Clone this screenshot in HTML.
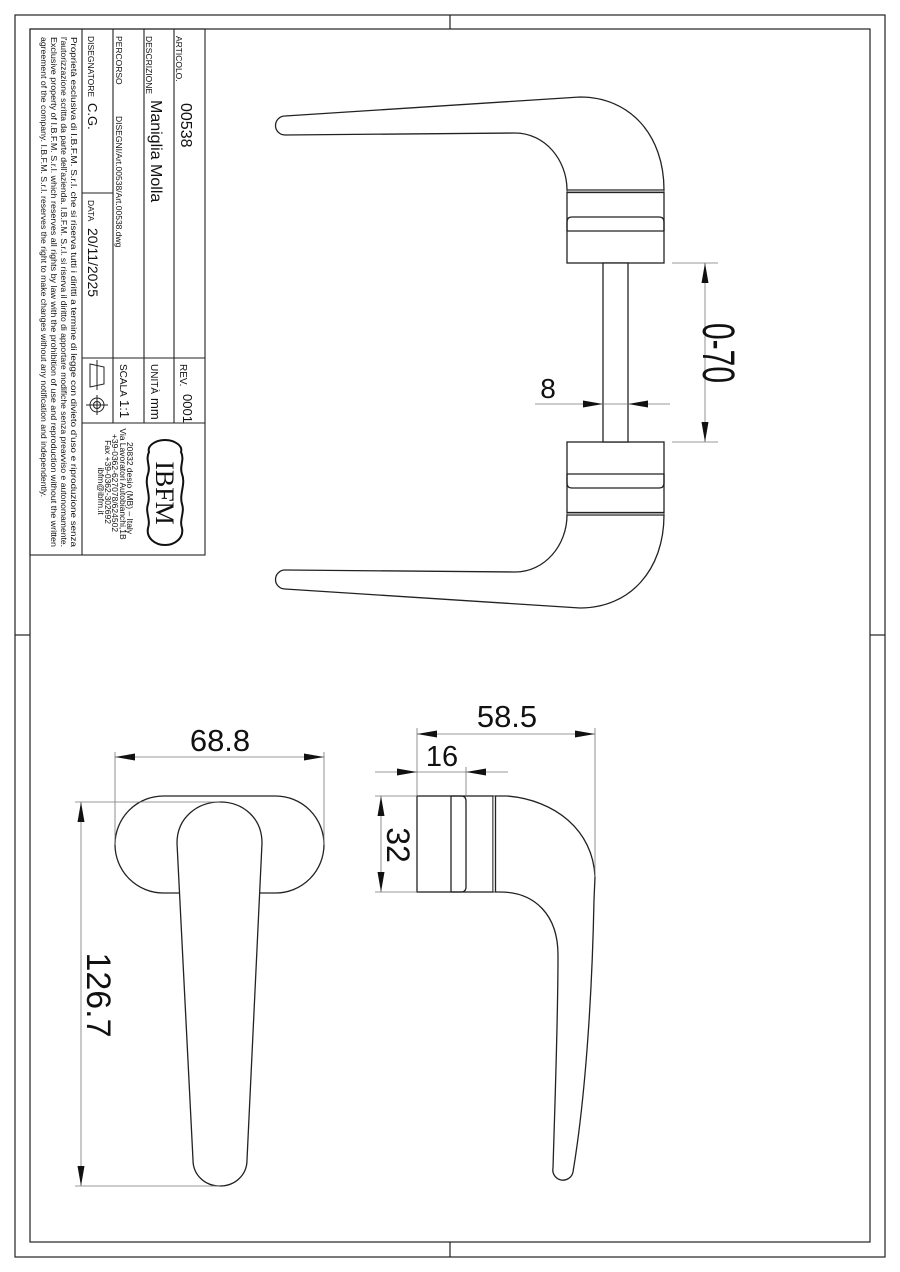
<!DOCTYPE html>
<html><head><meta charset="utf-8"><style>
html,body{margin:0;padding:0;background:#fff;}
svg{display:block;}
text{font-family:"Liberation Sans",sans-serif;fill:#111;}
</style></head><body>
<svg width="900" height="1272" viewBox="0 0 900 1272" xmlns="http://www.w3.org/2000/svg">
<defs>
<g id="tophalf" fill="#fff" stroke="#222" stroke-width="1.3">
  <path d="M285,116 L580,97 C630,97 664,135 664,190 L567,190 C567,160 545,133 515,133 L285,135 A9.5,9.5 0 0 1 285,116 Z"/>
  <rect x="567" y="190" width="97" height="2.5" fill="#bbb" stroke-width="0.8"/>
  <rect x="567" y="192.5" width="97" height="70.5"/>
  <path d="M567,231 L567,222 Q567,217 572,217 L659,217 Q664,217 664,222 L664,231" fill="none"/>
  <line x1="567" y1="231" x2="664" y2="231"/>
</g>
</defs>

<!-- frames -->
<rect x="15" y="15" width="870" height="1242" fill="none" stroke="#222" stroke-width="1.2"/>
<rect x="30" y="29" width="840" height="1213" fill="none" stroke="#222" stroke-width="1.2"/>
<g stroke="#222" stroke-width="1.2">
<line x1="450" y1="15" x2="450" y2="29"/><line x1="450" y1="1242" x2="450" y2="1257"/>
<line x1="15" y1="635" x2="30" y2="635"/><line x1="870" y1="635" x2="885" y2="635"/>
</g>

<!-- title block -->
<g stroke="#222" stroke-width="1.1" fill="none">
<rect x="30" y="29" width="175" height="526"/>
<line x1="82" y1="29" x2="82" y2="555"/>
<line x1="113" y1="29" x2="113" y2="423"/>
<line x1="144" y1="29" x2="144" y2="423"/>
<line x1="174" y1="29" x2="174" y2="423"/>
<line x1="82" y1="193" x2="113" y2="193"/>
<line x1="82" y1="358" x2="205" y2="358"/>
<line x1="82" y1="423" x2="205" y2="423"/>
</g>
<g font-size="8.5">
<text transform="translate(71,37) rotate(90)" textLength="510" lengthAdjust="spacingAndGlyphs">Proprietà esclusiva di I.B.F.M. S.r.l. che si riserva tutti i diritti a termine di legge con divieto d'uso e riproduzione senza</text>
<text transform="translate(61,37) rotate(90)" textLength="510" lengthAdjust="spacingAndGlyphs">l'autorizzazione scritta da parte dell'azienda. I.B.F.M. S.r.l. si riserva il diritto di apportare modifiche senza preavviso e autonomamente.</text>
<text transform="translate(51,37) rotate(90)" textLength="510" lengthAdjust="spacingAndGlyphs">Exclusive property of I.B.F.M. S.r.l. which reserves all rights by law with the prohibition of use and reproduction without the written</text>
<text transform="translate(41,37) rotate(90)" textLength="460" lengthAdjust="spacingAndGlyphs">agreement of the company. I.B.F.M. S.r.l. reserves the right to make changes without any notification and independently.</text>
<text transform="translate(176,36) rotate(90)">ARTICOLO.</text>
<text transform="translate(146,36) rotate(90)">DESCRIZIONE</text>
<text transform="translate(116,36) rotate(90)">PERCORSO</text>
<text transform="translate(116,116) rotate(90)">DISEGNI/Art.00538/Art.00538.dwg</text>
<text transform="translate(88,36) rotate(90)">DISEGNATORE</text>
<text transform="translate(88,200) rotate(90)">DATA</text>
<text transform="translate(180,364) rotate(90)" font-size="10">REV.</text>
<text transform="translate(151,364) rotate(90)" font-size="10">UNITÀ</text>
<text transform="translate(120,364) rotate(90)" font-size="10">SCALA</text>
</g>
<text transform="translate(181,103) rotate(90)" font-size="16">00538</text>
<text transform="translate(151,100) rotate(90)" font-size="16">Maniglia Molla</text>
<text transform="translate(88,103) rotate(90)" font-size="13">C.G.</text>
<text transform="translate(88,228) rotate(90)" font-size="14">20/11/2025</text>
<text transform="translate(183,394) rotate(90)" font-size="13">0001</text>
<text transform="translate(151,398) rotate(90)" font-size="13">mm</text>
<text transform="translate(120,400) rotate(90)" font-size="13">1:1</text>
<!-- projection symbol -->
<g stroke="#222" stroke-width="1" fill="none">
<path d="M90,364 L104,367 L104,384 L90,387 Z"/>
<line x1="97" y1="360" x2="97" y2="390"/>
<circle cx="97" cy="405" r="7"/><circle cx="97" cy="405" r="3.5"/>
<line x1="86" y1="405" x2="108" y2="405"/><line x1="97" y1="395" x2="97" y2="415"/>
</g>
<!-- logo -->
<path d="M165,440 C175,440 183,446 181,452 C185,460 179,466 182,474 C186,484 179,494 182,504 C185,512 179,520 182,528 C184,538 175,545 165,545 C155,545 146,538 148,528 C151,520 145,512 148,504 C151,494 144,484 148,474 C151,466 145,460 149,452 C147,446 155,440 165,440 Z" fill="none" stroke="#111" stroke-width="2"/>
<text transform="translate(156,493) rotate(90)" font-size="26" text-anchor="middle" style="font-family:'Liberation Serif',serif">IBFM</text>
<g font-size="8.5" text-anchor="middle">
<text transform="translate(127,488) rotate(90)">20832 desio (MB) – Italy</text>
<text transform="translate(120,484) rotate(90)">Via Lavoratori Autobianchi,1B</text>
<text transform="translate(112,483) rotate(90)">+39-0362-627078/624502</text>
<text transform="translate(105,482) rotate(90)">Fax +39-0362-302692</text>
<text transform="translate(98,491) rotate(90)">ibfm@ibfm.it</text>
</g>

<!-- top view -->
<use href="#tophalf"/>
<use href="#tophalf" transform="matrix(1,0,0,-1,0,705)"/>
<rect x="603" y="263" width="25" height="179" fill="#fff" stroke="#222" stroke-width="1.3"/>

<!-- front view -->
<rect x="115" y="796" width="209" height="97" rx="48.5" fill="#fff" stroke="#222" stroke-width="1.3"/>
<path d="M177,843 C177,818 197,802 220,802 C243,802 262,818 262,843 L247,1160 C247,1175 235,1186 220,1186 C205,1186 193,1175 193,1160 Z" fill="#fff" stroke="#222" stroke-width="1.3"/>

<!-- side view -->
<g fill="#fff" stroke="#222" stroke-width="1.3">
<rect x="417" y="796" width="76" height="96"/>
<line x1="451" y1="796" x2="451" y2="892"/>
<path d="M451,796 L461,796 Q466,796 466,801 L466,887 Q466,892 461,892 L451,892" fill="none"/>
<rect x="493" y="796" width="2.5" height="96" stroke-width="0.8"/>
<path d="M495.5,796 L507,796 C555,800 593,830 595,877 L594,900 C592,1000 585,1100 573,1172 A10,10 0 0 1 553,1168 C555,1100 558,1020 558,955 C558,915 535,892 500,892 L495.5,892 Z"/>
</g>

<!-- dimension lines -->
<g stroke="#777" stroke-width="0.8" fill="none">
<line x1="672" y1="263" x2="718" y2="263"/><line x1="672" y1="442" x2="718" y2="442"/>
<line x1="705" y1="263" x2="705" y2="442"/>
<line x1="535" y1="404" x2="670" y2="404"/>
<line x1="115" y1="752" x2="115" y2="845"/><line x1="324" y1="752" x2="324" y2="845"/>
<line x1="115" y1="757" x2="324" y2="757"/>
<line x1="75" y1="802" x2="220" y2="802"/><line x1="75" y1="1186" x2="220" y2="1186"/>
<line x1="81" y1="802" x2="81" y2="1186"/>
<line x1="417" y1="728" x2="417" y2="796"/><line x1="595" y1="728" x2="595" y2="877"/>
<line x1="417" y1="734" x2="595" y2="734"/>
<line x1="466" y1="767" x2="466" y2="796"/>
<line x1="375" y1="772" x2="508" y2="772"/>
<line x1="375" y1="796" x2="417" y2="796"/><line x1="375" y1="892" x2="417" y2="892"/>
<line x1="381" y1="796" x2="381" y2="892"/>
</g>
<g fill="#111">
<path d="M705,263 L701.5,283 L708.5,283 Z"/><path d="M705,442 L701.5,422 L708.5,422 Z"/>
<path d="M603,404 L583,400.5 L583,407.5 Z"/><path d="M628,404 L648,400.5 L648,407.5 Z"/>
<path d="M115,757 L135,753.5 L135,760.5 Z"/><path d="M324,757 L304,753.5 L304,760.5 Z"/>
<path d="M81,802 L77.5,822 L84.5,822 Z"/><path d="M81,1186 L77.5,1166 L84.5,1166 Z"/>
<path d="M417,734 L437,730.5 L437,737.5 Z"/><path d="M595,734 L575,730.5 L575,737.5 Z"/>
<path d="M417,772 L397,768.5 L397,775.5 Z"/><path d="M466,772 L486,768.5 L486,775.5 Z"/>
<path d="M381,796 L377.5,816 L384.5,816 Z"/><path d="M381,892 L377.5,872 L384.5,872 Z"/>
</g>
<g text-anchor="middle">
<text transform="translate(703,353) rotate(90) scale(1,1.5)" font-size="30">0-70</text>
<text x="548" y="398" font-size="28">8</text>
<text x="220" y="751" font-size="31">68.8</text>
<text transform="translate(87,995) rotate(90)" font-size="34">126.7</text>
<text x="507" y="727" font-size="31">58.5</text>
<text x="442" y="766" font-size="29">16</text>
<text transform="translate(387,845) rotate(90)" font-size="32">32</text>
</g>
</svg>
</body></html>
